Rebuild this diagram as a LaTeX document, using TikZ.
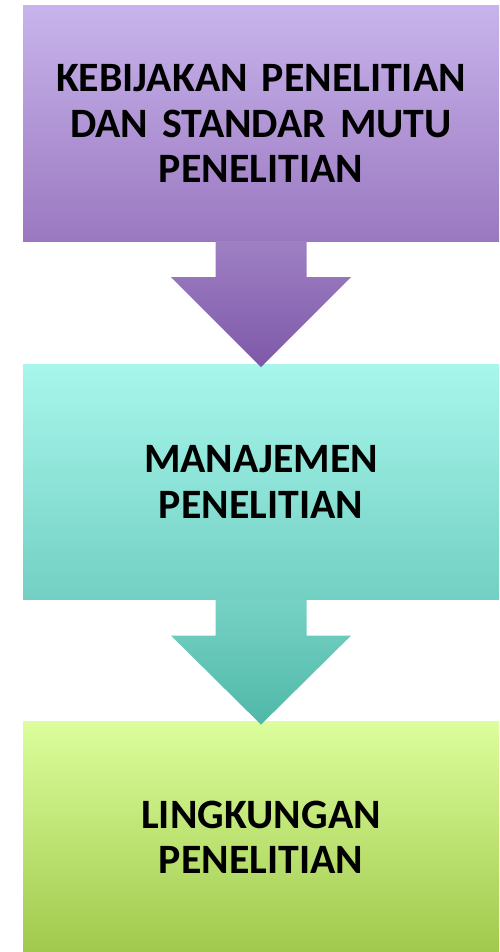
\documentclass[tikz,border=0pt]{standalone}
\usepackage{fontspec}
\setmainfont{Carlito}
\usepackage{tikz}
\usepackage{xcolor}
\usetikzlibrary{positioning, calc}
\definecolor{cPurpleTop}{RGB}{200,180,236}
\definecolor{cPurpleBot}{RGB}{154,120,192}
\definecolor{cPurpleArrA}{RGB}{158,128,196}
\definecolor{cPurpleArrB}{RGB}{126,88,168}
\definecolor{cTealTop}{RGB}{168,246,236}
\definecolor{cTealBot}{RGB}{114,208,194}
\definecolor{cTealArrA}{RGB}{118,210,196}
\definecolor{cTealArrB}{RGB}{80,184,168}
\definecolor{cLimeTop}{RGB}{220,254,156}
\definecolor{cLimeBot}{RGB}{160,201,76}
\tikzset{
	stage/.style    ={rectangle, minimum width=476pt, minimum height=235pt, inner sep=0pt, align=center, text width=470pt,
	                  font=\fontsize{41.8}{45.5}\selectfont\bfseries},
	bigarrow/.style ={draw=none},
}
\begin{document}
\begin{tikzpicture}[node distance=123pt]
			\useasboundingbox (0,0) rectangle (499pt,-952pt);
			\node[stage, top color=cPurpleTop, bottom color=cPurpleBot] (kebijakan) at (261pt,-123.5pt) {KEBIJAKAN PENELITIAN\\ DAN STANDAR MUTU\\ PENELITIAN};
			\node[stage, below=of kebijakan, top color=cTealTop, bottom color=cTealBot] (manajemen) {MANAJEMEN\\ PENELITIAN};
			\node[stage, below=122pt of manajemen, minimum height=231pt, top color=cLimeTop, bottom color=cLimeBot] (lingkungan) {LINGKUNGAN\\ PENELITIAN};
			% block arrows between the stages
			\path[bigarrow, top color=cPurpleArrA, bottom color=cPurpleArrB]
				([xshift=-45.5pt]kebijakan.south) -- ([xshift=-45.5pt,yshift=-36pt]kebijakan.south)
				-- ([xshift=-90pt,yshift=-36pt]kebijakan.south) -- ([yshift=-3pt]manajemen.north)
				-- ([xshift=90pt,yshift=-36pt]kebijakan.south) -- ([xshift=45.5pt,yshift=-36pt]kebijakan.south)
				-- ([xshift=45.5pt]kebijakan.south) -- cycle;
			\path[bigarrow, top color=cTealArrA, bottom color=cTealArrB]
				([xshift=-45.5pt]manajemen.south) -- ([xshift=-45.5pt,yshift=-36pt]manajemen.south)
				-- ([xshift=-90pt,yshift=-36pt]manajemen.south) -- ([yshift=-3pt]lingkungan.north)
				-- ([xshift=90pt,yshift=-36pt]manajemen.south) -- ([xshift=45.5pt,yshift=-36pt]manajemen.south)
				-- ([xshift=45.5pt]manajemen.south) -- cycle;
		\end{tikzpicture}
\end{document}
